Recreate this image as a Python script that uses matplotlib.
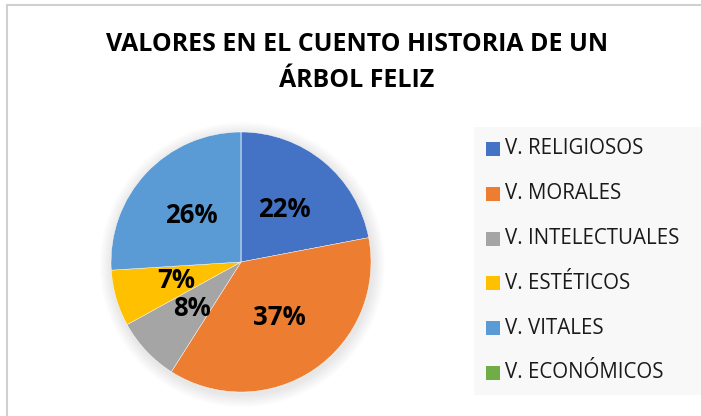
import matplotlib.pyplot as plt
from matplotlib.patches import Rectangle, Circle

# datos del gráfico
labels = ['V. RELIGIOSOS', 'V. MORALES', 'V. INTELECTUALES', 'V. ESTÉTICOS',
          'V. VITALES', 'V. ECONÓMICOS']
values = [22, 37, 8, 7, 26, 0]
colors = ['#4472C4', '#ED7D31', '#A5A5A5', '#FFC000', '#5B9BD5', '#70AD47']
title_lines = ['VALORES EN EL CUENTO HISTORIA DE UN', 'ÁRBOL FELIZ']

W, H = 701, 416
FONT = 'Open Sans'

fig = plt.figure(figsize=(W / 100, H / 100), dpi=100)
fig.patch.set_facecolor('white')


def fx(px):
    return px / W


def fy(py):
    return 1 - py / H


# borde del área del gráfico (solo visible arriba e izquierda)
fig.add_artist(plt.Line2D([fx(7), fx(7)], [fy(5), 0], color='#D0D0D0', lw=1.5))
fig.add_artist(plt.Line2D([fx(7), 1], [fy(5), fy(5)], color='#D0D0D0', lw=1.5))

# título
fig.text(fx(357), fy(44.5), title_lines[0], ha='center', va='center',
         fontsize=17.9, fontweight='bold', family=FONT, color='black')
fig.text(fx(357), fy(80.5), title_lines[1], ha='center', va='center',
         fontsize=17.9, fontweight='bold', family=FONT, color='black')

# fondo de la leyenda
fig.add_artist(Rectangle((fx(474), fy(395)), fx(W - 474), (395 - 127) / H,
                         facecolor='#F8F8F8', edgecolor='none'))

# pastel
cx, cy, r = 241, 262, 130
pad = 20
ax = fig.add_axes([fx(cx - r - pad), fy(cy + r + pad), (2 * (r + pad)) / W, (2 * (r + pad)) / H])

# sombra suave alrededor del pastel
for k in range(8):
    ax.add_patch(Circle((0.01, -0.02), 1 + 0.012 * (k + 1), facecolor='black',
                        alpha=0.012, edgecolor='none', zorder=0))

wedges, texts, autotexts = ax.pie(
    values, colors=colors, startangle=90, counterclock=False, radius=1,
    autopct=lambda p: f'{p:.0f}%' if p > 0 else '', pctdistance=0.52,
    wedgeprops=dict(edgecolor='white', linewidth=0.3),
    textprops=dict(fontsize=18.5, fontweight='bold', family=FONT, color='black'),
    frame=True)
ax.axis('off')
ax.set_xlim(-(r + pad) / r, (r + pad) / r)
ax.set_ylim(-(r + pad) / r, (r + pad) / r)

# leyenda manual
for i, (lab, col) in enumerate(zip(labels, colors)):
    y = 149 + i * 44.8
    fig.add_artist(Rectangle((fx(486), fy(y + 7)), fx(14), 14 / H,
                             facecolor=col, edgecolor='none'))
    fig.text(fx(505), fy(y), lab, ha='left', va='center', fontsize=14.8,
             family=FONT, color='#1A1A1A')

fig.savefig('out.png', dpi=100)
